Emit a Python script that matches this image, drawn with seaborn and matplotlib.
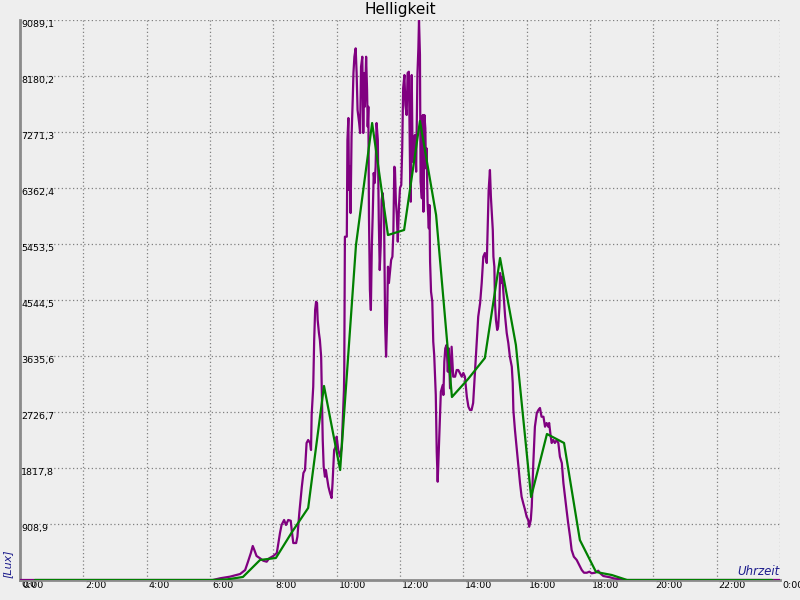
import numpy as np
import pandas as pd
import seaborn as sns
import matplotlib
matplotlib.use("Agg")
import matplotlib.pyplot as plt
from matplotlib.transforms import ScaledTranslation

# ---------------- data ----------------
purple_time = [0.0, 6.09, 6.32, 6.63, 6.95, 7.11, 7.20, 7.29, 7.35, 7.40, 7.47, 7.58, 7.68, 7.79, 7.87,
               8.00, 8.11, 8.16, 8.21, 8.26, 8.34, 8.40, 8.47, 8.55, 8.58, 8.63, 8.72, 8.76, 8.82, 8.90,
               8.95, 9.00, 9.05, 9.10, 9.16, 9.19, 9.21, 9.26, 9.29, 9.32, 9.35, 9.38, 9.40, 9.44, 9.47,
               9.51, 9.53, 9.56, 9.59, 9.63, 9.66, 9.69, 9.74, 9.79, 9.84, 9.87, 9.92, 9.97, 10.00, 10.05,
               10.11, 10.16, 10.19, 10.23, 10.24, 10.26, 10.32, 10.34, 10.37, 10.39, 10.42, 10.44, 10.47,
               10.51, 10.53, 10.56, 10.60, 10.63, 10.66, 10.71, 10.74, 10.77, 10.81, 10.84, 10.87, 10.89,
               10.93, 10.96, 10.98, 11.00, 11.02, 11.05, 11.08, 11.11, 11.14, 11.17, 11.20, 11.23, 11.26,
               11.30, 11.33, 11.36, 11.39, 11.42, 11.45, 11.49, 11.50, 11.53, 11.56, 11.59, 11.62, 11.65,
               11.68, 11.72, 11.76, 11.79, 11.82, 11.84, 11.87, 11.90, 11.93, 11.97, 12.00, 12.04, 12.07,
               12.10, 12.14, 12.17, 12.21, 12.24, 12.28, 12.32, 12.34, 12.37, 12.40, 12.44, 12.47, 12.51,
               12.55, 12.58, 12.60, 12.63, 12.65, 12.69, 12.72, 12.74, 12.77, 12.80, 12.82, 12.84, 12.87,
               12.91, 12.93, 12.95, 12.98, 13.02, 13.05, 13.08, 13.13, 13.16, 13.19, 13.22, 13.26, 13.29,
               13.32, 13.35, 13.37, 13.40, 13.43, 13.47, 13.51, 13.54, 13.58, 13.63, 13.68, 13.74, 13.79,
               13.84, 13.89, 13.95, 14.00, 14.05, 14.11, 14.16, 14.21, 14.26, 14.31, 14.37, 14.42, 14.47,
               14.53, 14.58, 14.63, 14.68, 14.74, 14.77, 14.80, 14.84, 14.87, 14.93, 14.95, 14.98, 15.00,
               15.03, 15.07, 15.10, 15.14, 15.16, 15.19, 15.23, 15.26, 15.32, 15.37, 15.42, 15.47, 15.53,
               15.56, 15.58, 15.63, 15.69, 15.74, 15.79, 15.84, 15.89, 15.95, 16.00, 16.05, 16.08, 16.13,
               16.16, 16.21, 16.26, 16.32, 16.37, 16.42, 16.47, 16.53, 16.58, 16.63, 16.68, 16.71, 16.76,
               16.79, 16.84, 16.89, 16.95, 17.00, 17.05, 17.11, 17.16, 17.21, 17.26, 17.31, 17.37, 17.42,
               17.49, 17.58, 17.66, 17.74, 17.81, 17.90, 17.98, 18.05, 18.16, 18.26, 18.32, 18.42, 18.53,
               18.63, 18.74, 18.95, 19.05, 24.0]
purple_lux = [0, 0, 28, 54, 97, 162, 297, 438, 552, 487, 390, 352, 313, 297, 352,
              390, 438, 600, 763, 893, 974, 893, 974, 962, 812, 600, 600, 703, 1087, 1514,
              1737, 1785, 2224, 2272, 2224, 2110, 2678, 3137, 3895, 4382, 4517, 4496, 4220, 4009, 3895,
              3624, 3084, 2272, 1839, 1677, 1785, 1677, 1514, 1412, 1331, 1574, 2110, 2163, 2326, 2110,
              2001, 2163, 2548, 3084, 3408, 5572, 5572, 7141, 7498, 6330, 6708, 5956, 7195,
              7844, 8229, 8493, 8629, 8229, 7628, 7417, 7255, 8331, 8493, 7255, 8229, 7682,
              8493, 7953, 7357, 7682, 5896, 4707, 4382, 5409, 5956, 6606, 6443, 6708, 7417,
              7141, 5843, 5031, 5409, 6167, 6281, 6059, 5734, 4171, 3624, 4171, 5085, 4820,
              4983, 5194, 5247, 5632, 6708, 6687, 6140, 5924, 5491, 6086, 6362, 6411, 7006,
              7985, 8196, 7709, 7547, 8229, 8250, 6573, 6140, 8196, 6789, 7006, 7222, 6627,
              8196, 8629, 9089, 8521, 6464, 6195, 7547, 5977, 7547, 7331, 6682, 7006, 6140,
              5708, 6086, 5166, 4679, 4517, 3868, 3652, 3003, 2082, 1595, 2029, 2569, 3056,
              3111, 3165, 3003, 3543, 3760, 3814, 3381, 3760, 3111, 3786, 3300, 3300, 3408,
              3408, 3360, 3300, 3360, 3300, 2975, 2813, 2759, 2759, 2873, 3408, 3847, 4273,
              4496, 4820, 5247, 5307, 5145, 5734, 6330, 6654, 6221, 5681, 5247, 5085, 4496,
              4220, 4058, 4111, 4436, 4983, 4820, 4923, 4707, 4273, 4009, 3847, 3624, 3462,
              3197, 2759, 2435, 2110, 1839, 1574, 1352, 1250, 1136, 1027, 974, 865, 974,
              1190, 1899, 2488, 2710, 2759, 2792, 2650, 2650, 2488, 2548, 2488, 2548, 2326,
              2224, 2272, 2224, 2272, 2224, 2001, 1899, 1574, 1352, 1136, 925, 703, 487,
              378, 325, 243, 162, 118, 118, 135, 109, 118, 151, 109, 65, 54,
              44, 28, 11, 0, 0]

green_time = [0.47, 6.04, 6.54, 7.04, 7.58, 8.08, 8.59, 9.10, 9.60, 10.11, 10.61, 11.12, 11.62, 12.13,
              12.63, 13.14, 13.64, 14.15, 14.68, 15.16, 15.66, 16.14, 16.64, 17.18, 17.68, 18.19,
              18.69, 19.17, 23.75]
green_lux = [0, 0, 10, 49, 325, 357, 779, 1169, 3149, 1785, 5437, 7417, 5599, 5681,
             7450, 5924, 2970, 3262, 3603, 5226, 3814, 1347, 2370, 2224, 649, 130,
             81, 0, 0]

x_ticks = [0, 2, 4, 6, 8, 10, 12, 14, 16, 18, 20, 22, 24]
x_labels = ["0:00", "2:00", "4:00", "6:00", "8:00", "10:00", "12:00", "14:00",
            "16:00", "18:00", "20:00", "22:00", "0:00"]
y_max = 9089.1
y_labels = ["0,0", "908,9", "1817,8", "2726,7", "3635,6", "4544,5", "5453,5",
            "6362,4", "7271,3", "8180,2", "9089,1"]

# ---------------- style ----------------
sns.set_theme(style="white")
plt.rcParams["font.family"] = ["DejaVu Sans"]

bg = "#eeeeee"
fig, ax = plt.subplots(figsize=(8, 6), dpi=100)
fig.patch.set_facecolor(bg)
ax.set_facecolor(bg)
ax.set_position([20 / 800, 20 / 600, 760 / 800, 560 / 600])

df_p = pd.DataFrame({"t": purple_time, "lux": purple_lux})
df_g = pd.DataFrame({"t": green_time, "lux": green_lux})

sns.lineplot(data=df_p, x="t", y="lux", color="#800080", linewidth=1.6,
             estimator=None, sort=False, ax=ax, zorder=3)
sns.lineplot(data=df_g, x="t", y="lux", color="#008000", linewidth=1.6,
             estimator=None, sort=False, ax=ax, zorder=4)

ax.set_xlim(0, 24)
ax.set_ylim(0, y_max)

y_ticks = np.linspace(0, y_max, len(y_labels))
ax.set_xticks(x_ticks, x_labels, ha="left", va="top")
ax.set_yticks(y_ticks, y_labels, ha="left", va="top")
ax.tick_params(axis="both", length=0, labelsize=6.8, labelcolor="black")
ax.tick_params(axis="x", pad=1)
ax.tick_params(axis="y", pad=-1)

off = ScaledTranslation(2 / 100, 0, fig.dpi_scale_trans)
for lbl in ax.get_xticklabels():
    lbl.set_transform(lbl.get_transform() + off)

ax.grid(True, color="#808080", linestyle=(0, (1, 2)), linewidth=0.9)
ax.set_axisbelow(True)

for s in ["top", "right"]:
    ax.spines[s].set_visible(False)
for s in ["left", "bottom"]:
    ax.spines[s].set_color("#8a8a8a")
    ax.spines[s].set_linewidth(2)
    ax.spines[s].set_zorder(2)

ax.set_title("Helligkeit", fontsize=11, color="black", pad=4)

ax.set_xlabel("Uhrzeit", fontsize=8.5, style="italic", color="#1c1c8c",
              ha="right", va="bottom")
ax.xaxis.set_label_coords(1.0, 0.004)
ax.set_ylabel("[Lux]", fontsize=8, style="italic", color="#1c1c8c",
              ha="center", va="center")
ax.yaxis.set_label_coords(-0.0158, 0.029)

fig.savefig("out.png", dpi=100, facecolor=bg)
